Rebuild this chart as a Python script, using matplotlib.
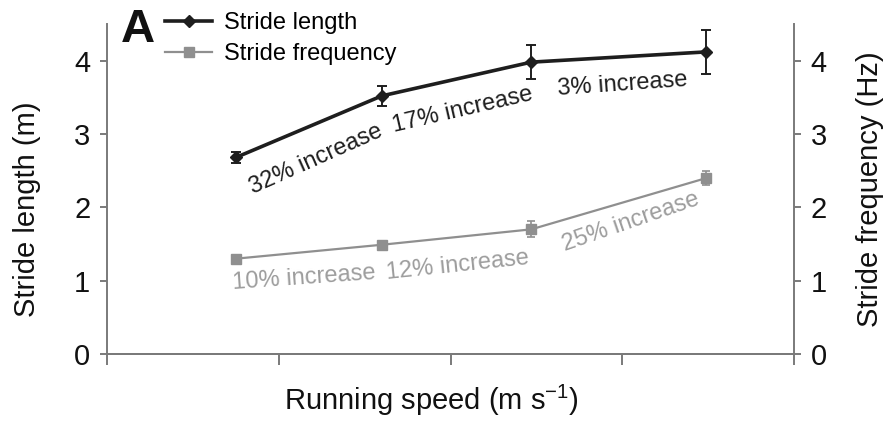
import matplotlib.pyplot as plt
from matplotlib.lines import Line2D

plt.rcParams['font.family'] = ['Liberation Sans', 'DejaVu Sans']
plt.rcParams['mathtext.fontset'] = 'custom'
plt.rcParams['mathtext.rm'] = 'Liberation Sans'

# running speed positions (axis units) for the four trials
speed = [0.75, 1.6, 2.47, 3.49]

stride_length = [2.68, 3.52, 3.98, 4.12]
stride_length_err = [0.08, 0.14, 0.23, 0.30]

stride_freq = [1.30, 1.49, 1.70, 2.40]
stride_freq_err = [0.04, 0.05, 0.11, 0.10]

length_labels = ['32% increase', '17% increase', '3% increase']
freq_labels = ['10% increase', '12% increase', '25% increase']

dark = '#1e1e1e'
grey = '#8f8f8f'
spine_grey = '#7a7a7a'

fig = plt.figure(figsize=(8.85, 4.25), dpi=100)
ax = fig.add_axes([0.1209, 0.167, 0.7763, 0.7765])
ax2 = ax.twinx()

ax.errorbar(speed, stride_length, yerr=stride_length_err, color=dark, lw=2.6,
            marker='D', ms=6.5, capsize=3.6, elinewidth=1.4, capthick=1.4, zorder=3)
ax2.errorbar(speed, stride_freq, yerr=stride_freq_err, color=grey, lw=1.6,
             marker='s', ms=7.5, capsize=3.0, elinewidth=1.2, capthick=1.2, zorder=3)

for a in (ax, ax2):
    a.set_xlim(0, 4)
    a.set_ylim(0, 4.5)
    a.set_yticks([0, 1, 2, 3, 4])
    for s in a.spines.values():
        s.set_color(spine_grey)
        s.set_linewidth(1.4)
    a.spines['top'].set_visible(False)
    a.tick_params(colors=spine_grey, labelcolor='#111111', labelsize=21,
                  width=1.4, length=5, pad=7)

ax.set_xticks([0, 1, 2, 3, 4])
ax.set_xticklabels([])
ax.tick_params(axis='x', length=8)
ax2.spines['left'].set_visible(False)
ax.spines['right'].set_visible(False)

ax.set_ylabel('Stride length (m)', fontsize=21, labelpad=24, color='#111111')
ax.yaxis.label.set_y(0.44)
ax2.set_ylabel('Stride frequency (Hz)', fontsize=21, labelpad=21, color='#111111')
ax.set_xlabel(r'Running speed (m s$^{\mathrm{-1}}$)', fontsize=21, labelpad=6,
              color='#111111')
ax.xaxis.label.set_x(0.472)

# percent-change notes along each segment (centre x, centre y, angle)
len_pos = [(1.22, 2.66, 24), (2.07, 3.33, 13), (3.00, 3.68, 4)]
freq_pos = [(1.15, 1.03, 4), (2.04, 1.20, 6), (3.05, 1.80, 19)]
for txt, (x, y, r) in zip(length_labels, len_pos):
    ax.text(x, y, txt, fontsize=17, color=dark, rotation=r,
            ha='center', va='center', rotation_mode='anchor')
for txt, (x, y, r) in zip(freq_labels, freq_pos):
    ax.text(x, y, txt, fontsize=17, color='#9d9d9d', rotation=r,
            ha='center', va='center', rotation_mode='anchor')

fig.text(0.137, 0.93, 'A', fontsize=34, fontweight='bold', color='#111111',
         va='center', ha='left')

handles = [Line2D([], [], color=dark, lw=2.6, marker='D', ms=6.5),
           Line2D([], [], color=grey, lw=1.6, marker='s', ms=7.5)]
fig.legend(handles=handles, labels=['Stride length', 'Stride frequency'],
           loc='upper left', bbox_to_anchor=(0.176, 0.993),
           frameon=False, fontsize=17, handlelength=2.0, handletextpad=0.5,
           labelspacing=0.36, borderaxespad=0)

fig.savefig('out.png', dpi=100)
